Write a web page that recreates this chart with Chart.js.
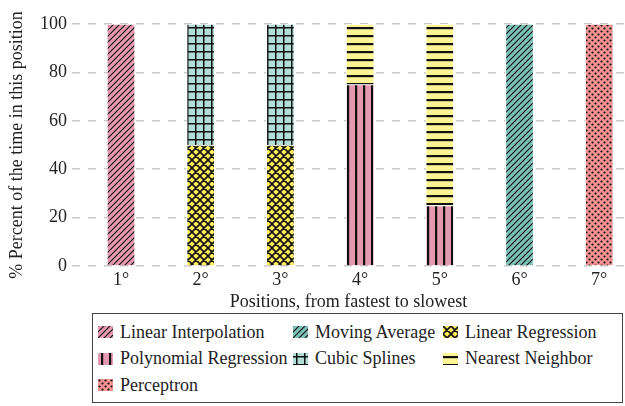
<!DOCTYPE html>
<html>
<head>
<meta charset="utf-8">
<script src="https://cdn.jsdelivr.net/npm/chart.js@4/dist/chart.umd.min.js"></script>
<style>
html,body{margin:0;padding:0;background:#fff;overflow:hidden;width:625px;height:406px;}
#chart{position:absolute;left:0;top:0;}
#legend{position:absolute;left:92px;top:313px;width:531px;height:90px;box-sizing:border-box;border:1px solid #444;
  font-family:"Liberation Serif",serif;font-size:18px;color:#222;}
.item{position:absolute;display:flex;align-items:center;height:26px;white-space:nowrap;}
.item canvas{margin-right:7px;}
</style>
</head>
<body>
<canvas id="chart" width="625" height="313"></canvas>
<div id="legend"></div>
<script>
// ---- data ----
const categories = ["1°", "2°", "3°", "4°", "5°", "6°", "7°"];
const linearInterpolation  = [100, 0, 0, 0, 0, 0, 0];
const polynomialRegression = [0, 0, 0, 75, 25, 0, 0];
const perceptron           = [0, 0, 0, 0, 0, 0, 100];
const movingAverage        = [0, 0, 0, 0, 0, 100, 0];
const linearRegression     = [0, 50, 50, 0, 0, 0, 0];
const cubicSplines         = [0, 50, 50, 0, 0, 0, 0];
const nearestNeighbor      = [0, 0, 0, 25, 75, 0, 0];
const yTicks = [0, 20, 40, 60, 80, 100];
const xTitle = "Positions, from fastest to slowest";
const yTitle = "% Percent of the time in this position";

// ---- patterns ----
function tile(bg, kind) {
  const s = (kind === 'diag' || kind === 'dots') ? 6 : 8;
  const c = document.createElement('canvas');
  c.width = s; c.height = s;
  const g = c.getContext('2d');
  g.fillStyle = bg; g.fillRect(0, 0, s, s);
  g.strokeStyle = '#111'; g.fillStyle = '#111';
  if (kind === 'diag') {
    g.lineWidth = 1.1;
    g.beginPath();
    g.moveTo(0, s); g.lineTo(s, 0);
    g.moveTo(-1, 1); g.lineTo(1, -1);
    g.moveTo(s - 1, s + 1); g.lineTo(s + 1, s - 1);
    g.stroke();
  } else if (kind === 'cross') {
    g.lineWidth = 1.6;
    g.beginPath();
    g.moveTo(0, s); g.lineTo(s, 0);
    g.moveTo(0, 0); g.lineTo(s, s);
    g.moveTo(-1, 1); g.lineTo(1, -1);
    g.moveTo(s - 1, s + 1); g.lineTo(s + 1, s - 1);
    g.moveTo(-1, s - 1); g.lineTo(1, s + 1);
    g.moveTo(s - 1, -1); g.lineTo(s + 1, 1);
    g.stroke();
  } else if (kind === 'plus') {
    g.fillRect(3, 0, 1.5, s);
    g.fillRect(0, 3, s, 1.5);
  } else if (kind === 'vert') {
    g.fillRect(3, 0, 2.2, s);
  } else if (kind === 'horiz') {
    g.fillRect(0, 3, s, 2.2);
  } else if (kind === 'dots') {
    g.beginPath(); g.arc(1.5, 1.5, 1.1, 0, Math.PI * 2); g.fill();
    g.beginPath(); g.arc(4.5, 4.5, 1.1, 0, Math.PI * 2); g.fill();
  }
  return c;
}
const ctx = document.getElementById('chart').getContext('2d');
function pat(bg, kind) { return ctx.createPattern(tile(bg, kind), 'repeat'); }

const series = [
  { label: "Linear Interpolation",  values: linearInterpolation,  bg: '#e799b1', kind: 'diag' },
  { label: "Polynomial Regression", values: polynomialRegression, bg: '#e599b1', kind: 'vert' },
  { label: "Perceptron",            values: perceptron,           bg: '#f49191', kind: 'dots' },
  { label: "Moving Average",        values: movingAverage,        bg: '#7cc0b8', kind: 'diag' },
  { label: "Linear Regression",     values: linearRegression,     bg: '#ffeb5a', kind: 'cross' },
  { label: "Cubic Splines",         values: cubicSplines,         bg: '#b2ded8', kind: 'plus' },
  { label: "Nearest Neighbor",      values: nearestNeighbor,      bg: '#fff596', kind: 'horiz' }
];
// legend order, read row by row (3 columns)
const legendOrder = ["Linear Interpolation", "Moving Average", "Linear Regression",
  "Polynomial Regression", "Cubic Splines", "Nearest Neighbor", "Perceptron"];

const font = { family: 'Liberation Serif', size: 18 };

const datasets = series.map(s => ({
  label: s.label,
  data: s.values.map((v, i) => ({ x: i, y: v })).filter(p => p.y > 0),
  backgroundColor: pat(s.bg, s.kind),
  borderColor: 'rgba(255,255,255,0.85)',
  borderWidth: 1,
  barThickness: 28,
  stack: 'a'
}));

new Chart(ctx, {
  type: 'bar',
  data: { datasets },
  options: {
    responsive: false,
    animation: false,
    devicePixelRatio: 1,
    layout: { padding: { top: 24, left: 0, right: 0, bottom: 0 } },
    plugins: { legend: { display: false }, tooltip: { enabled: false } },
    scales: {
      x: {
        type: 'linear', min: -0.615, max: 6.324, stacked: true, offset: false,
        afterBuildTicks: sc => { sc.ticks = categories.map((_, i) => ({ value: i })); },
        grid: { display: false, drawTicks: false, offset: false },
        border: { display: false },
        ticks: { callback: v => categories[v] ?? '', font, color: '#222', padding: 3, maxRotation: 0, autoSkip: false },
        title: { display: true, text: xTitle, font, color: '#222', padding: { top: 0, bottom: 0 } },
        afterFit: sc => { sc.height = 47; }
      },
      y: {
        stacked: true, min: 0, max: 100,
        afterBuildTicks: sc => { sc.ticks = yTicks.map(v => ({ value: v })); },
        grid: { color: '#c9c9c9', lineWidth: 1.5, drawTicks: false },
        border: { display: false, dash: [8, 8] },
        ticks: { font, color: '#222', padding: 5 },
        title: { display: true, text: yTitle, font, color: '#222', padding: { top: 6, bottom: 0 } },
        afterFit: sc => { sc.width = 72; }
      }
    }
  }
});

// ---- legend ----
const legend = document.getElementById('legend');
const colX = [5, 200, 350];
legendOrder.forEach((name, k) => {
  const s = series.find(d => d.label === name);
  const col = k % 3, row = Math.floor(k / 3);
  const it = document.createElement('div');
  it.className = 'item';
  it.style.left = colX[col] + 'px';
  it.style.top = (5 + row * 26.7) + 'px';
  const sw = document.createElement('canvas');
  sw.width = 15; sw.height = 12;
  const g = sw.getContext('2d');
  g.fillStyle = g.createPattern(tile(s.bg, s.kind), 'repeat');
  g.fillRect(0, 0, 15, 12);
  it.appendChild(sw);
  const t = document.createElement('span');
  t.textContent = name;
  it.appendChild(t);
  legend.appendChild(it);
});
</script>
</body>
</html>
